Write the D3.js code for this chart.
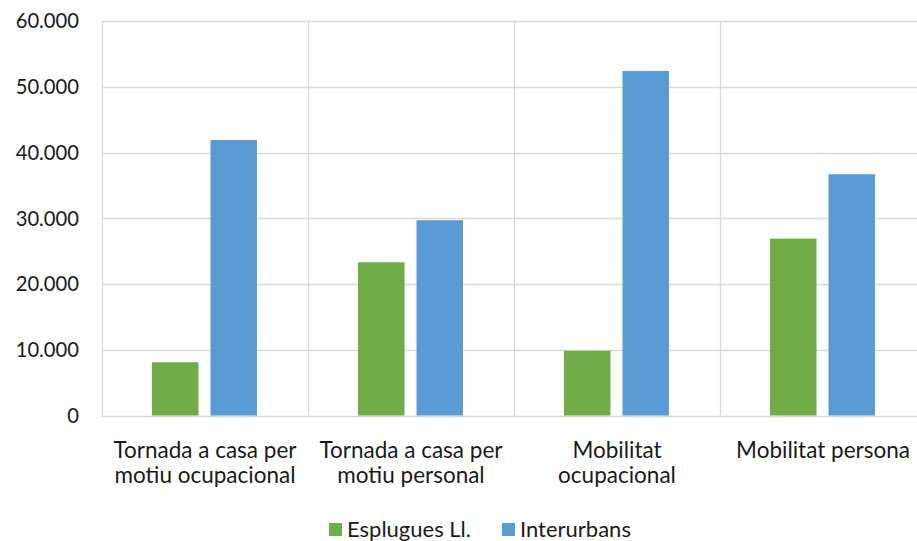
<!DOCTYPE html>
<html>
<head>
<meta charset="utf-8">
<script src="https://cdn.jsdelivr.net/npm/d3@7"></script>
<style>
  html, body { margin: 0; padding: 0; background: #fff; }
  svg { display: block; }
  text { font-family: Lato, "Open Sans", sans-serif; fill: #1a1a1a; }
</style>
</head>
<body>
<svg id="chart" width="917" height="541"></svg>
<script>
// Trips by purpose: Esplugues Ll. vs Interurbans
const categories = [
  ["Tornada a casa per", "motiu ocupacional"],
  ["Tornada a casa per", "motiu personal"],
  ["Mobilitat", "ocupacional"],
  ["Mobilitat persona"]
];
const seriesNames = ["Esplugues Ll.", "Interurbans"];
const esplugues = [8100, 23300, 9850, 26900];
const interurbans = [41900, 29700, 52400, 36700];
const yTicks = [0, 10000, 20000, 30000, 40000, 50000, 60000];
const colors = ["#70ad47", "#5b9bd5"];

const svg = d3.select("#chart");
const margin = { left: 102, top: 21, bottom: 415.5 };
const bandW = 206;
const plotRight = margin.left + bandW * categories.length;

const x = d3.scaleBand()
  .domain(d3.range(categories.length))
  .range([margin.left, plotRight])
  .paddingInner(0).paddingOuter(0);

// two bars per category, with an inner gap
const inner = d3.scaleBand()
  .domain([0, 1])
  .range([50, bandW - 51])
  .paddingInner(0.205);

const y = d3.scaleLinear().domain([0, 60000]).range([margin.bottom, margin.top]);

const fmt = v => v === 0 ? "0" : d3.format(",")(v).replace(/,/g, ".");

// horizontal gridlines
svg.append("g").selectAll("line").data(yTicks).join("line")
  .attr("x1", margin.left).attr("x2", plotRight)
  .attr("y1", d => Math.round(y(d)) + 0.5).attr("y2", d => Math.round(y(d)) + 0.5)
  .attr("stroke", "#d9d9d9").attr("stroke-width", 1.3);

// vertical category separators
svg.append("g").selectAll("line").data(d3.range(categories.length + 1)).join("line")
  .attr("x1", i => margin.left + i * bandW + 0.5).attr("x2", i => margin.left + i * bandW + 0.5)
  .attr("y1", margin.top).attr("y2", margin.bottom)
  .attr("stroke", "#d9d9d9").attr("stroke-width", 1.3);

// y axis labels
svg.append("g").selectAll("text").data(yTicks).join("text")
  .attr("x", 79).attr("y", d => y(d))
  .attr("dy", "0.36em")
  .attr("text-anchor", "end")
  .attr("font-size", 20.2)
  .text(fmt);

// bars
const series = [esplugues, interurbans];
series.forEach((vals, s) => {
  svg.append("g").selectAll("rect").data(vals).join("rect")
    .attr("x", (d, i) => x(i) + inner(s))
    .attr("width", inner.bandwidth())
    .attr("y", d => y(d))
    .attr("height", d => y(0) - y(d))
    .attr("fill", colors[s]);
});

// category labels
const lab = svg.append("g").selectAll("text").data(categories).join("text")
  .attr("text-anchor", "middle")
  .attr("font-size", 22.5);
lab.each(function (lines, i) {
  const t = d3.select(this);
  lines.forEach((ln, k) => {
    t.append("tspan")
      .attr("x", x(i) + bandW / 2)
      .attr("y", 458 + k * 24.5)
      .text(ln);
  });
});

// legend
const legend = svg.append("g");
const legendItems = [
  { name: seriesNames[0], color: colors[0], x: 329 },
  { name: seriesNames[1], color: colors[1], x: 502 }
];
legendItems.forEach(it => {
  legend.append("rect").attr("x", it.x).attr("y", 523).attr("width", 13).attr("height", 13).attr("fill", it.color);
  legend.append("text").attr("x", it.x + 18).attr("y", 537).attr("font-size", 22).text(it.name);
});
</script>
</body>
</html>
